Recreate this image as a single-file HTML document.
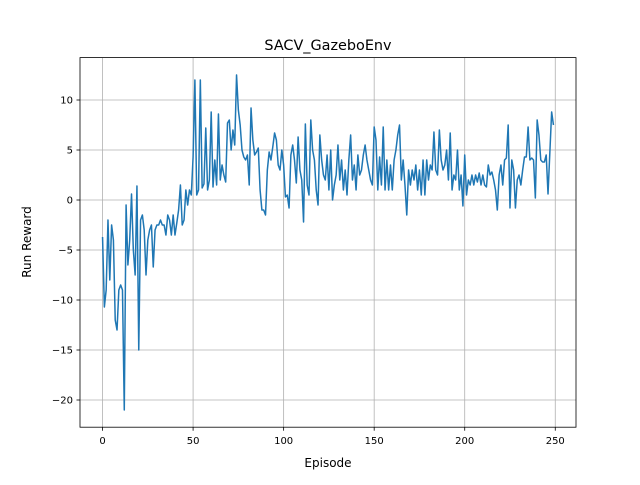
<!DOCTYPE html>
<html><head><meta charset="utf-8"><style>
body{margin:0;background:#fff;font-family:"Liberation Sans","DejaVu Sans",sans-serif}
svg text{font-family:"DejaVu Sans","Liberation Sans",sans-serif}
</style></head><body>
<svg id="chart" width="640" height="480" viewBox="0 0 640 480">
<rect width="640" height="480" fill="#fff"/>
<g id="grid"></g><g id="axes"></g>
<path id="line" fill="none" stroke="#1f77b4" stroke-width="1.5" stroke-linejoin="round"/>
<rect x="80" y="57.6" width="496" height="369.6" fill="none" stroke="#000" stroke-width="0.8"/>
<text x="328" y="50" text-anchor="middle" font-size="14.4">SACV_GazeboEnv</text>
<text x="328" y="467" text-anchor="middle" font-size="12">Episode</text>
<text transform="translate(31,242) rotate(-90)" text-anchor="middle" font-size="12">Run Reward</text>
</svg>
<script>
const xTicks=[0,50,100,150,200,250];
const yTicks=[10,5,0,-5,-10,-15,-20];
const rewards=[
-3.7,-10.7,-9,-2,-8,-2.5,-4,-12,-13,-9,-8.5,-9,-21,-0.5,-6.5,-4,0.6,-5,-7.5,1.4,
-15,-2,-1.5,-3,-7.5,-4,-3,-2.5,-6.7,-3,-2.5,-2.5,-2,-2.5,-2.5,-3.5,-1.5,-2,-3.5,-1.5,
-3.5,-2.3,-1,1.5,-2.5,-2,1,-0.5,1,0.5,4.3,12,0.5,1,12,1.2,1.6,7.2,1,2,
8.8,1.3,4,1.5,8.6,2,3.5,2.5,1.8,7.7,8,5,7,5.5,12.5,9,7.5,5,4.3,4,
4.5,1.5,9.2,6,4.5,4.8,5.2,1,-1,-1,-1.5,3,4.8,4,5.3,6.7,6,3.5,3,5,
3.5,0.3,0.5,-0.8,4.5,5.5,4,1.7,6.3,3,2,-2.2,7.6,1.5,0.5,8,5,4,1,-0.5,
6.5,4,2.5,2,4.5,1,5,0,1.5,2.5,5.5,2,4,1,3,0.5,4,6.5,2,3.5,
1,4.5,2.5,3,4.5,5.5,4,3,2,1.5,7.3,6,1,4.3,1.5,7.3,1,4,1,3.5,
1,4,5,6.5,7.5,2,4,1.5,-1.5,3,1.5,3,2,3.5,1,3,0.5,4,0.5,4,
2,3.5,3,6.8,3,2.5,7,4,3,3.5,5,2,6.7,1,2.5,2,5,1,2.5,-0.6,
4.5,0.5,2,1.5,2.5,1.5,2.5,1.8,2.7,1.5,2.5,1.5,1.3,3.5,2.5,2.8,2,1,-1,2.5,
3.5,1.5,4,4.2,7.5,-0.8,4,3,-0.8,2,2.5,1.5,3,4.3,4.3,7.3,4,4.2,4,0.2,
8,6.5,4,3.8,3.8,4.5,0.6,4.7,8.8,7.5];
const X0=80,X1=576,Y0=57.6,Y1=427.2,xmin=-12.45,xmax=261.45,ymin=-22.72,ymax=14.24;
const sx=v=>X0+(v-xmin)/(xmax-xmin)*(X1-X0);
const sy=v=>Y1-(v-ymin)/(ymax-ymin)*(Y1-Y0);
const NS="http://www.w3.org/2000/svg";
const grid=document.getElementById('grid'),axes=document.getElementById('axes');
function mk(tag,attrs,parent){const e=document.createElementNS(NS,tag);for(const k in attrs)e.setAttribute(k,attrs[k]);parent.appendChild(e);return e;}
xTicks.forEach(t=>{const x=sx(t);
const g=mk('line',{x1:x,x2:x,y1:Y0,y2:Y1,stroke:'#b0b0b0','stroke-width':0.8},grid);


mk('line',{x1:x,x2:x,y1:Y1,y2:Y1+3.5,stroke:'#000','stroke-width':0.8},axes);
const tx=mk('text',{x:x,y:Y1+17,'text-anchor':'middle','font-size':10},axes);tx.textContent=t;

});
yTicks.forEach(t=>{const y=sy(t);
const g=mk('line',{x1:X0,x2:X1,y1:y,y2:y,stroke:'#b0b0b0','stroke-width':0.8},grid);


mk('line',{x1:X0-3.5,x2:X0,y1:y,y2:y,stroke:'#000','stroke-width':0.8},axes);
const tx=mk('text',{x:X0-7,y:y+3.5,'text-anchor':'end','font-size':10},axes);tx.textContent=t<0?'\u2212'+(-t):t;

});
document.getElementById('line').setAttribute('d',rewards.map((v,i)=>(i?'L':'M')+sx(i).toFixed(2)+','+sy(v).toFixed(2)).join(''));
</script>
</body></html>
